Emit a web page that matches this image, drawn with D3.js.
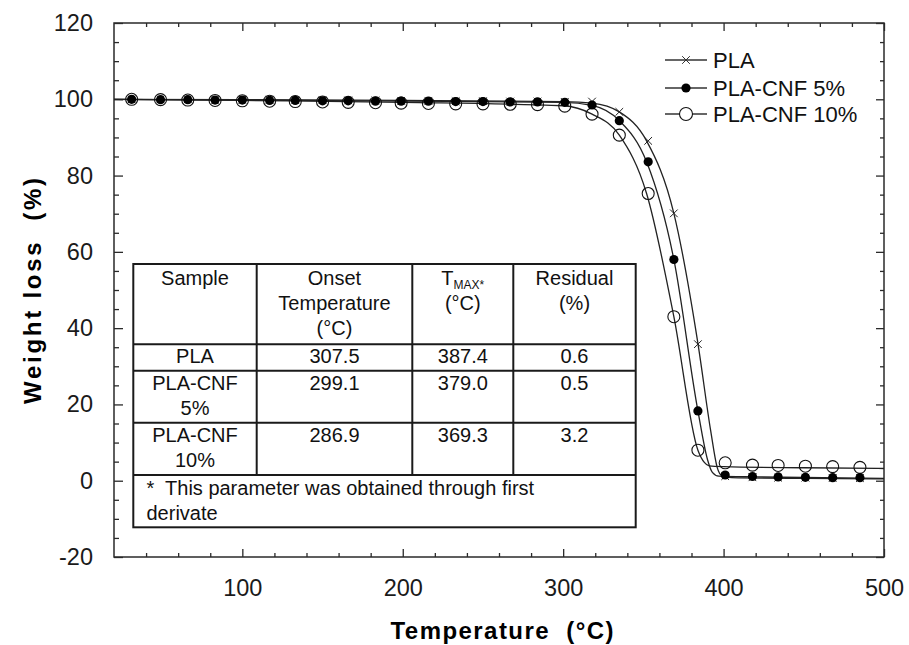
<!DOCTYPE html>
<html>
<head>
<meta charset="utf-8">
<script src="https://cdn.jsdelivr.net/npm/d3@7/dist/d3.min.js"></script>
<style>
  body { margin: 0; background: #fff; }
  svg { display: block; font-family: "Liberation Sans", Arial, sans-serif; }
</style>
</head>
<body>
<svg id="chart" width="909" height="645"></svg>
<script>
// marker temperatures (°C)
var markerTemps = [31, 49, 66, 83, 100, 117, 133, 150, 166, 183, 199, 216, 233, 250, 267, 284, 301,
                   318, 335, 353, 369, 384, 401, 418, 434, 451, 468, 485];

// weight (%) at the marker temperatures
var plaMarks = [100, 100, 100, 99.9, 99.9, 99.9, 99.8, 99.8, 99.7, 99.7, 99.6, 99.6, 99.5, 99.5, 99.4, 99.4, 99.3,
                99.4, 96.7, 89.1, 70.1, 35.8, 1.2, 0.9, 0.8, 0.8, 0.7, 0.7];
var cnf5Marks = [100, 99.9, 99.9, 99.8, 99.8, 99.7, 99.7, 99.6, 99.6, 99.5, 99.5, 99.5, 99.4, 99.4, 99.3, 99.3, 99.2,
                 98.5, 94.4, 83.6, 58, 18.3, 1.5, 1.1, 1.0, 0.9, 0.8, 0.8];
var cnf10Marks = [100, 99.9, 99.8, 99.7, 99.6, 99.5, 99.4, 99.3, 99.2, 99.1, 99.0, 98.9, 98.8, 98.8, 98.7, 98.6, 98.2,
                  96.1, 90.6, 75.3, 43, 8, 4.7, 4.1, 4.0, 3.8, 3.7, 3.5];

// fitted curves, [temperature, weight]
var plaCurve = [[20, 100], [100, 99.9], [200, 99.7], [300, 99.4], [318, 99.0], [335, 96.7], [352, 89.1],
                [369, 70.1], [384, 36], [392, 13], [396, 3.5], [399, 1.3], [405, 0.8], [450, 0.6], [500, 0.5]];
var cnf5Curve = [[20, 100], [100, 99.8], [200, 99.5], [300, 99.2], [318, 98.4], [335, 94.4], [352, 83.6],
                 [369, 58], [384, 18.3], [390, 5.5], [393, 2.2], [397, 1.2], [420, 1.0], [500, 0.6]];
var cnf10Curve = [[20, 100], [100, 99.7], [200, 99.2], [300, 98.3], [318, 96.1], [335, 90.6], [352, 75.3],
                  [369, 43], [384, 8], [388, 4.8], [391, 3.9], [400, 3.7], [450, 3.4], [500, 3.2]];

var seriesNames = ["PLA", "PLA-CNF 5%", "PLA-CNF 10%"];

var xMajor = [100, 200, 300, 400, 500];
var xMinor = [40, 60, 80, 120, 140, 160, 180, 220, 240, 260, 280, 320, 340, 360, 380, 420, 440, 460, 480];
var yMajor = [-20, 0, 20, 40, 60, 80, 100, 120];
var yMinor = [-15, -10, -5, 5, 10, 15, 25, 30, 35, 45, 50, 55, 65, 70, 75, 85, 90, 95, 105, 110, 115];

// inset table
var tableHeader = [["Sample"], ["Onset", "Temperature", "(°C)"], ["TMAX*", "(°C)"], ["Residual", "(%)"]];
var tableRows = [
    [["PLA"], ["307.5"], ["387.4"], ["0.6"]],
    [["PLA-CNF", "5%"], ["299.1"], ["379.0"], ["0.5"]],
    [["PLA-CNF", "10%"], ["286.9"], ["369.3"], ["3.2"]]
];
var tableNote = ["*  This parameter was obtained through first", "derivate"];

var svg = d3.select("#chart");
var pLeft = 114, pRight = 884, pTop = 23, pBottom = 557;

var x = d3.scaleLinear().domain([20, 500]).range([pLeft, pRight]);
var y = d3.scaleLinear().domain([-20, 120]).range([pBottom, pTop]);

var axisColor = "#2a2a2a";
var plain = d => String(d);   // keep the ASCII hyphen in "-20"

// frame
svg.append("rect")
    .attr("x", pLeft).attr("y", pTop)
    .attr("width", pRight - pLeft).attr("height", pBottom - pTop)
    .attr("fill", "none").attr("stroke", axisColor).attr("stroke-width", 1.5);

function tickStyle(g) {
    g.select(".domain").remove();
    g.selectAll("line").attr("stroke", axisColor).attr("stroke-width", 1.3);
    g.selectAll("text").attr("font-size", "23.5px").attr("fill", "#1a1a1a");
}

// bottom
svg.append("g").attr("transform", `translate(0,${pBottom})`)
    .call(d3.axisBottom(x).tickValues(xMajor).tickSize(-8).tickPadding(22).tickFormat(plain))
    .call(tickStyle);
svg.append("g").attr("transform", `translate(0,${pBottom})`)
    .call(d3.axisBottom(x).tickValues(xMinor).tickSize(-4).tickFormat(""))
    .call(tickStyle);
// top
svg.append("g").attr("transform", `translate(0,${pTop})`)
    .call(d3.axisTop(x).tickValues(xMajor).tickSize(-8).tickFormat(""))
    .call(tickStyle);
svg.append("g").attr("transform", `translate(0,${pTop})`)
    .call(d3.axisTop(x).tickValues(xMinor).tickSize(-4).tickFormat(""))
    .call(tickStyle);
// left
svg.append("g").attr("transform", `translate(${pLeft},0)`)
    .call(d3.axisLeft(y).tickValues(yMajor).tickSize(-9).tickPadding(21).tickFormat(plain))
    .call(tickStyle);
svg.append("g").attr("transform", `translate(${pLeft},0)`)
    .call(d3.axisLeft(y).tickValues(yMinor).tickSize(-5).tickFormat(""))
    .call(tickStyle);
// right
svg.append("g").attr("transform", `translate(${pRight},0)`)
    .call(d3.axisRight(y).tickValues(yMajor).tickSize(-8).tickFormat(""))
    .call(tickStyle);
svg.append("g").attr("transform", `translate(${pRight},0)`)
    .call(d3.axisRight(y).tickValues(yMinor).tickSize(-4).tickFormat(""))
    .call(tickStyle);

// axis titles
svg.append("text")
    .attr("x", 502).attr("y", 639)
    .attr("text-anchor", "middle")
    .attr("font-size", "24px").attr("font-weight", "bold")
    .attr("textLength", 223).attr("lengthAdjust", "spacing")
    .style("white-space", "pre")
    .text("Temperature  (°C)");

svg.append("text")
    .attr("transform", "translate(41,291) rotate(-90)")
    .attr("text-anchor", "middle")
    .attr("font-size", "24px").attr("font-weight", "bold")
    .attr("textLength", 226).attr("lengthAdjust", "spacing")
    .style("white-space", "pre")
    .text("Weight loss  (%)");

// curves
var line = d3.line()
    .x(d => x(d[0]))
    .y(d => y(d[1]))
    .curve(d3.curveMonotoneX);

var curves = svg.append("g")
    .attr("fill", "none").attr("stroke", "#222").attr("stroke-width", 1.3);
[cnf10Curve, cnf5Curve, plaCurve].forEach(c => {
    curves.append("path").attr("d", line(c));
});

function pts(vals) {
    return vals.map((v, i) => ({ t: markerTemps[i], w: v }));
}

// markers: open circles, crosses, filled circles
svg.append("g").selectAll("circle")
    .data(pts(cnf10Marks))
    .join("circle")
    .attr("cx", d => x(d.t)).attr("cy", d => y(d.w))
    .attr("r", 6)
    .attr("fill", "none").attr("stroke", "#111").attr("stroke-width", 1.1);

var cross = d3.symbol().type(d3.symbolX).size(40);
svg.append("g").selectAll("path")
    .data(pts(plaMarks))
    .join("path")
    .attr("transform", d => `translate(${x(d.t)},${y(d.w)})`)
    .attr("d", cross)
    .attr("fill", "none").attr("stroke", "#222").attr("stroke-width", 1);

svg.append("g").selectAll("circle")
    .data(pts(cnf5Marks))
    .join("circle")
    .attr("cx", d => x(d.t)).attr("cy", d => y(d.w))
    .attr("r", 4.6)
    .attr("fill", "#000");

// legend
var legend = svg.append("g").attr("transform", "translate(665,60)");
seriesNames.forEach((name, i) => {
    var g = legend.append("g").attr("transform", `translate(0,${[0, 28, 54][i]})`);
    g.append("line").attr("x1", 0).attr("x2", 42)
        .attr("stroke", "#333").attr("stroke-width", 1.3);
    if (i === 0) {
        g.append("path").attr("transform", "translate(21,0)").attr("d", cross)
            .attr("fill", "none").attr("stroke", "#333").attr("stroke-width", 1);
    } else if (i === 1) {
        g.append("circle").attr("cx", 21).attr("r", 4.6).attr("fill", "#000");
    } else {
        g.append("circle").attr("cx", 21).attr("r", 6.5).attr("fill", "#fff")
            .attr("stroke", "#111").attr("stroke-width", 1.1);
    }
    g.append("text").attr("x", 48).attr("y", 8)
        .attr("font-size", "22px").attr("fill", "#111")
        .text(name);
});

// table
var colX = [133.3, 256.7, 412.3, 513.3, 635.7];
var rowY = [264, 344.3, 370.7, 422.7, 475, 527.3];
var table = svg.append("g");
table.append("rect")
    .attr("x", colX[0]).attr("y", rowY[0])
    .attr("width", colX[4] - colX[0]).attr("height", rowY[5] - rowY[0])
    .attr("fill", "#fff").attr("stroke", "#1a1a1a").attr("stroke-width", 2);
rowY.slice(1, 5).forEach(ry => {
    table.append("line").attr("x1", colX[0]).attr("x2", colX[4])
        .attr("y1", ry).attr("y2", ry)
        .attr("stroke", "#1a1a1a").attr("stroke-width", 2);
});
colX.slice(1, 4).forEach(cx => {
    table.append("line").attr("x1", cx).attr("x2", cx)
        .attr("y1", rowY[0]).attr("y2", rowY[4])
        .attr("stroke", "#1a1a1a").attr("stroke-width", 2);
});

function cellText(lines, col, rowTop, firstOff) {
    var cx = (colX[col] + colX[col + 1]) / 2;
    lines.forEach((s, k) => {
        var t = table.append("text")
            .attr("x", cx).attr("y", rowTop + firstOff + k * 25)
            .attr("text-anchor", "middle")
            .attr("font-size", "20px").attr("fill", "#111");
        if (s === "TMAX*") {
            t.append("tspan").text("T");
            t.append("tspan").attr("font-size", "12px").attr("dy", 3.5).text("MAX*");
        } else {
            t.text(s);
        }
    });
}

tableHeader.forEach((lines, c) => cellText(lines, c, rowY[0], 21));
tableRows.forEach((row, r) => {
    row.forEach((lines, c) => cellText(lines, c, rowY[r + 1], r === 0 ? 19 : 19.5));
});
tableNote.forEach((s, k) => {
    table.append("text")
        .attr("x", 146.5).attr("y", rowY[4] + 20 + k * 25)
        .attr("font-size", "20px").attr("fill", "#111")
        .style("white-space", "pre")
        .text(s);
});
</script>
</body>
</html>
